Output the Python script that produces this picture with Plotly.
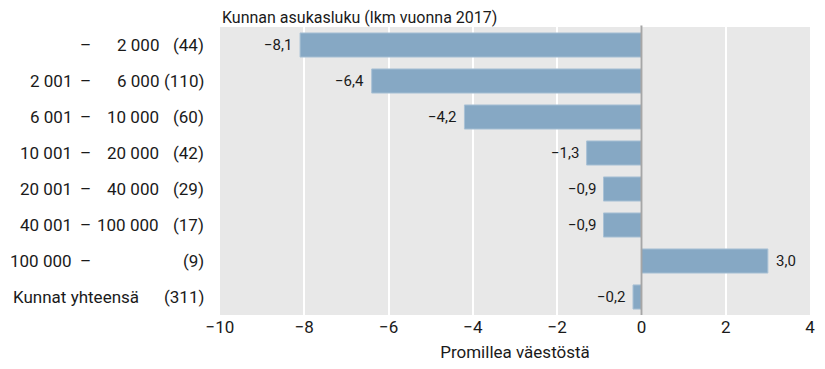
import plotly.graph_objects as go

# Municipality size classes (population in 2017) and number of municipalities
lower = ["", "2 001", "6 001", "10 001", "20 001", "40 001", "100 000", ""]
upper = ["2 000", "6 000", "10 000", "20 000", "40 000", "100 000", "", ""]
counts = [44, 110, 60, 42, 29, 17, 9, 311]
total_label = "Kunnat yhteensä"

# Net migration, per mille of population
values = [-8.1, -6.4, -4.2, -1.3, -0.9, -0.9, 3.0, -0.2]

x_ticks = [-10, -8, -6, -4, -2, 0, 2, 4]

FONT = "Roboto, Liberation Sans, sans-serif"
TXT = "#1a1a1a"

categories = [f"{lo}–{up}" if i < 7 else total_label
              for i, (lo, up) in enumerate(zip(lower, upper))]

W, H = 825, 369
L, R, T, B = 220, 10, 27, 53
PW = W - L - R


def px(p):
    return (p - L) / PW


def fmt(v):
    s = f"{abs(v):.1f}".replace(".", ",")
    return ("−" + s) if v < 0 else s


fig = go.Figure()
fig.add_trace(go.Bar(
    x=values, y=categories, orientation="h",
    marker=dict(color="#86a8c4", line=dict(color="#a9c1d5", width=1)),
    hoverinfo="skip",
))

ann = []
# value labels at the bar ends
for c, v in zip(categories, values):
    ann.append(dict(x=v, y=c, xref="x", yref="y", text=fmt(v), showarrow=False,
                    xanchor="right" if v < 0 else "left",
                    xshift=-6 if v < 0 else 6,
                    font=dict(size=15, color=TXT, family=FONT)))

# multi-column category labels
for i, c in enumerate(categories):
    f = dict(size=17, color=TXT, family=FONT)
    if i == 7:
        ann.append(dict(x=px(9), y=c, xref="paper", yref="y", text=total_label,
                        showarrow=False, xanchor="left", font=f))
    else:
        if lower[i]:
            ann.append(dict(x=px(73), y=c, xref="paper", yref="y", text=lower[i],
                            showarrow=False, xanchor="right", font=f))
        ann.append(dict(x=px(84), y=c, xref="paper", yref="y", text="–",
                        showarrow=False, xanchor="center", font=f))
        if upper[i]:
            ann.append(dict(x=px(160), y=c, xref="paper", yref="y", text=upper[i],
                            showarrow=False, xanchor="right", font=f))
    ann.append(dict(x=px(206), y=c, xref="paper", yref="y", text=f"({counts[i]})",
                    showarrow=False, xanchor="right", font=f))

ann.append(dict(x=0, y=1, xref="paper", yref="paper", yanchor="bottom", xanchor="left",
                text="Kunnan asukasluku (lkm vuonna 2017)", showarrow=False, yshift=-2,
                font=dict(size=16, color=TXT, family=FONT)))

fig.update_layout(
    width=W, height=H,
    margin=dict(l=L, r=R, t=T, b=B),
    paper_bgcolor="white", plot_bgcolor="#e8e8e8",
    bargap=0.33, showlegend=False,
    font=dict(family=FONT, color=TXT, size=17),
    annotations=ann,
    shapes=[dict(type="line", xref="x", yref="paper", x0=0, x1=0, y0=0, y1=1.005,
                 line=dict(color="#a6a6a6", width=2), layer="above")],
    xaxis=dict(range=[-10, 4], tickvals=x_ticks, showgrid=True, gridcolor="white",
               gridwidth=2, zeroline=False,
               ticks="", tickfont=dict(size=17, family=FONT, color=TXT),
               title=dict(text="Promillea väestöstä", standoff=10,
                          font=dict(size=17, family=FONT, color=TXT)),
               fixedrange=True),
    yaxis=dict(autorange="reversed", showticklabels=False, showgrid=False,
               ticks="", fixedrange=True),
)

fig.write_html("out.html")
